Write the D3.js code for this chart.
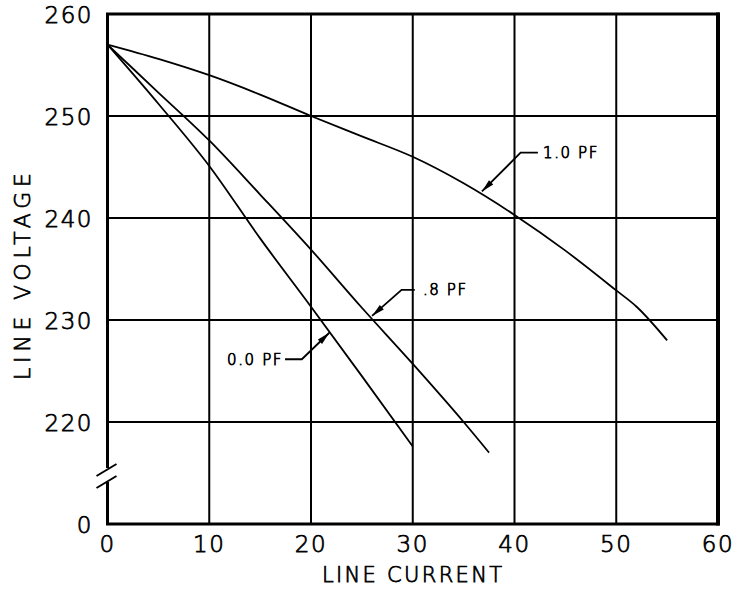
<!DOCTYPE html>
<html><head><meta charset="utf-8">
<script src="https://cdn.jsdelivr.net/npm/d3@7"></script>
<style>body{margin:0;background:#fff}svg{display:block}text{font-family:"DejaVu Sans",sans-serif;font-weight:200;fill:#000;stroke:#000;stroke-width:0.75px}</style>
</head><body>
<svg id="c" width="735" height="590"></svg>
<script>
// Data (current in A, voltage in V)
const currentPF10 = [0, 5, 10, 15, 20, 25, 30, 35, 40, 45, 50, 52, 55];
const voltagePF10 = [257, 255.6, 254, 252.1, 250, 248, 246, 243.4, 240.3, 236.8, 232.9, 231.3, 228];
const currentPF08 = [0, 5, 10, 15, 20, 25, 30, 35, 37.5];
const voltagePF08 = [257, 252.3, 247.6, 242.3, 236.9, 231.2, 225.7, 220, 217];
const currentPF00 = [0, 5, 10, 15, 20, 25, 30];
const voltagePF00 = [257, 251.2, 245.1, 238, 231.3, 224.5, 217.6];
const xTicks = [0, 10, 20, 30, 40, 50, 60];
const yTicks = [210, 220, 230, 240, 250, 260];
const yTickLabels = ["0", "220", "230", "240", "250", "260"];
const labels = ["1.0 PF", ".8 PF", "0.0 PF"];
// annotation anchors in data units: tip, elbow, leader end, text side
const tipX = [36.8, 26.0, 21.8], tipY = [242.6, 230.4, 228.75];
const elbowX = [40.6, 28.9, 19.1], elbowY = [246.4, 232.95, 226.15];
const leadEndX = [42.3, 30.2, 17.45];
const textX = [42.8, 31.0, 17.25];

const svg = d3.select("#c");
const x = d3.scaleLinear([0, 60], [107.5, 718]);
const y = d3.scaleLinear([210, 260], [524, 14]);

// grid
svg.append("g").selectAll("line").data(xTicks.slice(1, -1)).join("line")
  .attr("x1", d => x(d)).attr("x2", d => x(d)).attr("y1", y(260)).attr("y2", y(210))
  .attr("stroke", "#000").attr("stroke-width", 2);
svg.append("g").selectAll("line").data(yTicks.slice(1, -1)).join("line")
  .attr("y1", d => y(d)).attr("y2", d => y(d)).attr("x1", x(0)).attr("x2", x(60))
  .attr("stroke", "#000").attr("stroke-width", 2);

// frame
svg.append("rect").attr("x", x(0)).attr("y", y(260)).attr("width", x(60) - x(0)).attr("height", y(210) - y(260))
  .attr("fill", "none").attr("stroke", "#000").attr("stroke-width", 3);
svg.append("line").attr("x1", x(60)).attr("x2", x(60)).attr("y1", y(260) - 1.5).attr("y2", y(210) + 1.5)
  .attr("stroke", "#000").attr("stroke-width", 4);

// axis break
const by = (y(220) + y(210)) / 2 + 3;
svg.append("rect").attr("x", x(0) - 3).attr("y", by - 8).attr("width", 6).attr("height", 14).attr("fill", "#fff");
[-6, 6].forEach(o => {
  svg.append("line").attr("x1", x(0) - 11).attr("y1", by + o + 6).attr("x2", x(0) + 9).attr("y2", by + o - 6)
    .attr("stroke", "#000").attr("stroke-width", 2);
});

// tick labels
svg.append("g").selectAll("text").data(xTicks).join("text")
  .attr("x", d => x(d)).attr("y", 552).attr("text-anchor", "middle")
  .attr("font-size", 23).attr("letter-spacing", 1.5).text(d => d);
svg.append("g").selectAll("text").data(yTicks).join("text")
  .attr("x", 93).attr("y", d => y(d) + 8.5).attr("text-anchor", "end")
  .attr("font-size", 23).attr("letter-spacing", 1.5).text((d, i) => yTickLabels[i]);

// axis titles
svg.append("text").attr("x", 322).attr("y", 582).attr("font-size", 21)
  .attr("textLength", 180).attr("lengthAdjust", "spacing").text("LINE CURRENT");
svg.append("text").attr("transform", "translate(30,380) rotate(-90)").attr("font-size", 22)
  .attr("textLength", 207).attr("lengthAdjust", "spacing").text("LINE VOLTAGE");

// curves
const line = d3.line().x(d => x(d[0])).y(d => y(d[1])).curve(d3.curveMonotoneX);
const series = [
  d3.zip(currentPF10, voltagePF10),
  d3.zip(currentPF08, voltagePF08),
  d3.zip(currentPF00, voltagePF00)
];
svg.append("g").selectAll("path").data(series).join("path")
  .attr("d", line).attr("fill", "none").attr("stroke", "#000").attr("stroke-width", 1.8)
  .attr("stroke-linejoin", "round");

// annotations
labels.forEach((lab, i) => {
  const tx = x(tipX[i]), ty = y(tipY[i]), ex = x(elbowX[i]), ey = y(elbowY[i]);
  svg.append("path").attr("d", `M${x(leadEndX[i])},${ey}L${ex},${ey}L${tx},${ty}`)
    .attr("fill", "none").attr("stroke", "#000").attr("stroke-width", 1.8);
  const ang = Math.atan2(ey - ty, ex - tx);
  const L = 13, W = 3;
  const bx = tx + L * Math.cos(ang), byy = ty + L * Math.sin(ang);
  const px = -Math.sin(ang) * W, py = Math.cos(ang) * W;
  svg.append("path").attr("d", `M${tx},${ty}L${bx + px},${byy + py}L${bx - px},${byy - py}Z`).attr("fill", "#000");
  svg.append("text").attr("x", x(textX[i])).attr("y", ey + 5.5)
    .attr("text-anchor", i === 2 ? "end" : "start").attr("font-size", 15).attr("letter-spacing", 1.6).text(lab);
});
</script>
</body></html>
